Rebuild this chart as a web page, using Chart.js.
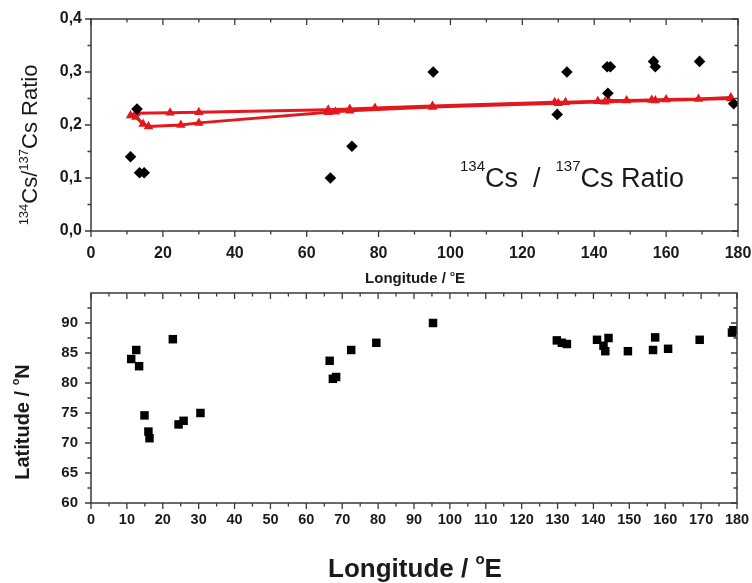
<!DOCTYPE html>
<html><head><meta charset="utf-8">
<script src="https://cdn.jsdelivr.net/npm/chart.js@4.4.1/dist/chart.umd.min.js"></script>
<style>
html,body{margin:0;padding:0;background:#fff;}
#wrap{position:relative;width:752px;height:583px;}
#c1{position:absolute;left:0;top:0;}
#c2{position:absolute;left:0;top:283px;}
</style></head>
<body><div id="wrap"><canvas id="c1" width="752" height="292"></canvas><canvas id="c2" width="752" height="300"></canvas></div>
<script>
// ---- Data ----
const ratioLon = [11, 12.8, 13.5, 14.8, 66.6, 72.6, 95.2, 129.7, 132.4, 143.6, 144.5, 143.8, 156.5, 157, 169.3, 178.8];
const ratioVal = [0.14, 0.23, 0.11, 0.11, 0.10, 0.16, 0.30, 0.22, 0.30, 0.31, 0.31, 0.26, 0.32, 0.31, 0.32, 0.24];

const modelUpperLon = [11, 12.5, 22, 30, 66, 72, 79, 95, 129, 132, 141, 144, 149, 156, 160, 169, 178];
const modelUpperVal = [0.218, 0.222, 0.223, 0.224, 0.229, 0.230, 0.232, 0.236, 0.243, 0.243, 0.245, 0.246, 0.246, 0.247, 0.248, 0.249, 0.252];
const modelLowerLon = [12.5, 14.5, 16, 25, 30, 66, 68, 72, 95, 130, 143, 157, 178];
const modelLowerVal = [0.215, 0.202, 0.197, 0.200, 0.204, 0.224, 0.225, 0.227, 0.234, 0.241, 0.244, 0.246, 0.250];

const stationLon = [11.2, 12.6, 13.4, 14.9, 16.0, 16.3, 22.8, 24.4, 25.8, 30.5, 66.5, 67.4, 68.3, 72.5, 79.5, 95.3, 129.8, 131.2, 132.6, 141, 142.8, 143.3, 144.2, 149.6, 156.6, 157.2, 160.8, 169.6, 179.0, 178.6];
const stationLat = [84.0, 85.5, 82.8, 74.6, 71.9, 70.8, 87.3, 73.1, 73.7, 75.0, 83.7, 80.7, 81.0, 85.5, 86.7, 90.0, 87.1, 86.7, 86.5, 87.2, 86.2, 85.3, 87.5, 85.3, 85.5, 87.6, 85.7, 87.2, 88.8, 88.4];

const topXTicks = [0, 20, 40, 60, 80, 100, 120, 140, 160, 180];
const topYTicks = [0, 0.1, 0.2, 0.3, 0.4];
const botXTicks = [0,10,20,30,40,50,60,70,80,90,100,110,120,130,140,150,160,170,180];
const botYTicks = [60, 65, 70, 75, 80, 85, 90];

const FONT = '"Liberation Sans", Arial, sans-serif';
const pts = (xs, ys) => xs.map((x, i) => ({x: x, y: ys[i]}));

function richText(ctx, parts, x, y, base, supSize, supRise, bold, rot) {
  const w = bold ? 'bold ' : '';
  let total = 0;
  parts.forEach(p => { ctx.font = w + (p.sup ? supSize : base) + 'px ' + FONT; total += ctx.measureText(p.t).width; });
  ctx.save();
  ctx.translate(x, y);
  if (rot) ctx.rotate(rot);
  ctx.textBaseline = 'alphabetic';
  ctx.textAlign = 'left';
  let cx = -total / 2;
  parts.forEach(p => {
    ctx.font = w + (p.sup ? supSize : base) + 'px ' + FONT;
    ctx.fillText(p.t, cx, p.sup ? -supRise : 0);
    cx += ctx.measureText(p.t).width;
  });
  ctx.restore();
}

const frame = {
  id: 'frame',
  afterDatasetsDraw(chart, args, o) {
    const ctx = chart.ctx, a = chart.chartArea, xs = chart.scales.x, ys = chart.scales.y;
    ctx.save();
    ctx.strokeStyle = '#3a3a3a';
    ctx.lineWidth = 1.5;
    ctx.strokeRect(a.left, a.top, a.right - a.left, a.bottom - a.top);
    ctx.lineWidth = 1.3;
    const tick = (vals, len, isX) => {
      vals.forEach(v => {
        ctx.beginPath();
        if (isX) {
          const p = xs.getPixelForValue(v);
          ctx.moveTo(p, a.bottom); ctx.lineTo(p, a.bottom + len);
          ctx.moveTo(p, a.top); ctx.lineTo(p, a.top + len);
        } else {
          const p = ys.getPixelForValue(v);
          ctx.moveTo(a.left, p); ctx.lineTo(a.left - len, p);
          ctx.moveTo(a.right, p); ctx.lineTo(a.right - len, p);
        }
        ctx.stroke();
      });
    };
    tick(o.xMajor, 6, true); tick(o.xMinor, 3.5, true);
    tick(o.yMajor, 6, false); tick(o.yMinor, 3.5, false);
    ctx.fillStyle = '#1a1a1a';
    o.texts(ctx, a);
    ctx.restore();
  }
};

function axisCfg(min, max, ticks, fmt, size, pad, fixed, isX) {
  return {
    type: 'linear', min: min, max: max,
    grid: {display: false, drawTicks: false, tickLength: 0},
    border: {display: false},
    afterBuildTicks: s => { s.ticks = ticks.map(v => ({value: v})); },
    afterFit: s => {
      if (isX) s.height = fixed; else s.width = fixed;
      s.paddingLeft = 0; s.paddingRight = 0; s.paddingTop = 0; s.paddingBottom = 0;
    },
    ticks: {color: '#1a1a1a', padding: pad, font: {family: FONT, size: size, weight: 'bold'}, callback: fmt, maxRotation: 0, autoSkip: false}
  };
}

const range = (a, b, s) => { const r = []; for (let v = a; v <= b + 1e-9; v += s) r.push(+v.toFixed(4)); return r; };

new Chart(document.getElementById('c1'), {
  type: 'scatter',
  data: {datasets: [
    {data: pts(ratioLon, ratioVal), pointStyle: 'rectRot', pointRadius: 5.8, pointHoverRadius: 5.8, backgroundColor: '#000', borderColor: '#000', borderWidth: 0},
    {data: pts(modelUpperLon, modelUpperVal), showLine: true, borderColor: '#e3181c', borderWidth: 3, pointStyle: 'triangle', pointRadius: 2.5, backgroundColor: '#e3181c', pointBorderColor: '#e3181c'},
    {data: pts(modelLowerLon, modelLowerVal), showLine: true, borderColor: '#e3181c', borderWidth: 3, pointStyle: 'triangle', pointRadius: 2.5, backgroundColor: '#e3181c', pointBorderColor: '#e3181c'}
  ]},
  options: {
    responsive: false, animation: false, events: [],
    layout: {padding: {left: 0, top: 19, right: 14, bottom: 0}},
    plugins: {legend: {display: false}, tooltip: {enabled: false},
      frame: {
        xMajor: topXTicks, xMinor: range(10, 170, 20), yMajor: topYTicks, yMinor: range(0.05, 0.35, 0.1),
        texts: (ctx, a) => {
          richText(ctx, [{t: '134', sup: true}, {t: 'Cs/'}, {t: '137', sup: true}, {t: 'Cs Ratio'}], 37, 145, 22, 13, 9, false, -Math.PI / 2);
          richText(ctx, [{t: '134', sup: true}, {t: 'Cs  /  '}, {t: '137', sup: true}, {t: 'Cs Ratio'}], 572, 187, 27, 15, 16, false, 0);
          richText(ctx, [{t: 'Longitude / '}, {t: 'o', sup: true}, {t: 'E'}], 415, 283, 15, 8, 7, true, 0);
        }
      }
    },
    scales: {
      x: axisCfg(0, 180, topXTicks, v => String(v), 16, 13, 61, true),
      y: axisCfg(0, 0.4, topYTicks, v => v.toFixed(1).replace('.', ','), 16, 9, 91, false)
    }
  },
  plugins: [frame]
});

new Chart(document.getElementById('c2'), {
  type: 'scatter',
  data: {datasets: [
    {data: pts(stationLon, stationLat), pointStyle: 'rect', pointRadius: 6, pointHoverRadius: 6, backgroundColor: '#000', borderColor: '#000', borderWidth: 0}
  ]},
  options: {
    responsive: false, animation: false, events: [],
    layout: {padding: {left: 0, top: 10, right: 15, bottom: 0}},
    plugins: {legend: {display: false}, tooltip: {enabled: false},
      frame: {
        xMajor: botXTicks, xMinor: range(5, 175, 10), yMajor: botYTicks, yMinor: range(62.5, 92.5, 5),
        texts: (ctx, a) => {
          richText(ctx, [{t: 'Latitude / '}, {t: 'o', sup: true}, {t: 'N'}], 29, 139, 20, 11, 10, true, -Math.PI / 2);
          richText(ctx, [{t: 'Longitude / '}, {t: 'o', sup: true}, {t: 'E'}], 415, 294, 26, 15, 13, true, 0);
        }
      }
    },
    scales: {
      x: axisCfg(0, 180, botXTicks, v => String(v), 14.5, 8, 80, true),
      y: axisCfg(60, 95, botYTicks, v => String(v), 15, 13, 91, false)
    }
  },
  plugins: [frame]
});
</script></body></html>
